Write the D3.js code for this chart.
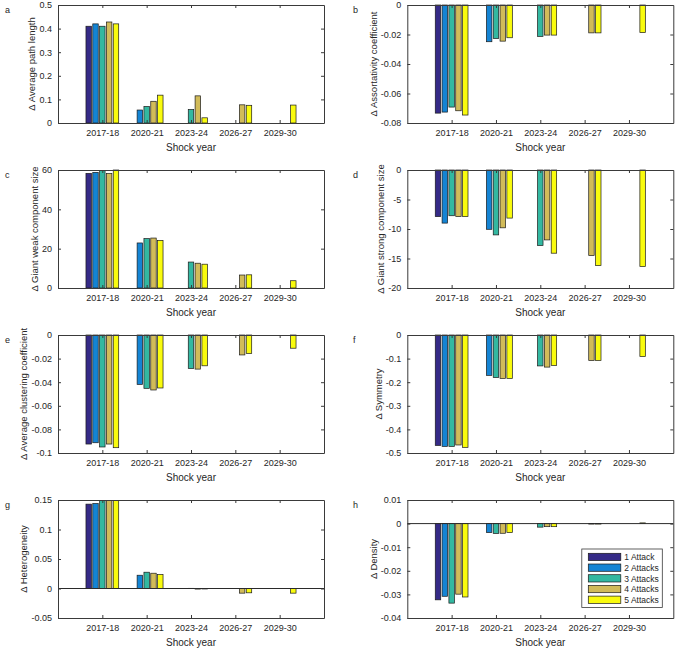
<!DOCTYPE html>
<html>
<head>
<meta charset="utf-8">
<script src="https://cdn.jsdelivr.net/npm/d3@7"></script>
<style>
  body { margin: 0; background: #fff; }
  svg text { font-family: "Liberation Sans", Arial, sans-serif; fill: #262626; }
</style>
</head>
<body>
<div id="chart-area"></div>
<script>
// categories and series
let shockYears = ["2017-18", "2020-21", "2023-24", "2026-27", "2029-30"];
let attackNames = ["1 Attack", "2 Attacks", "3 Attacks", "4 Attacks", "5 Attacks"];
let attackColors = ["#352A87", "#1484D4", "#33B8A1", "#D1BB59", "#F9FB0E"];

// each array: one row per attack series, one value per shock year (null = no bar)
let pathLength = [
    [0.410, null, null, null, null],
    [0.420, 0.055, null, null, null],
    [0.410, 0.070, 0.057, null, null],
    [0.428, 0.092, 0.115, 0.077, null],
    [0.420, 0.118, 0.022, 0.075, 0.076]
];
let assortativity = [
    [-0.0733, null, null, null, null],
    [-0.0726, -0.0249, null, null, null],
    [-0.0692, -0.0227, -0.0213, null, null],
    [-0.0717, -0.0245, -0.0204, -0.0189, null],
    [-0.0746, -0.0222, -0.0204, -0.0189, -0.0187]
];
let weakComponent = [
    [58.3, null, null, null, null],
    [58.8, 22.9, null, null, null],
    [59.7, 25.1, 13.2, null, null],
    [58.2, 25.4, 12.6, 6.6, null],
    [60.0, 24.2, 12.1, 6.7, 3.7]
];
let strongComponent = [
    [-7.9, null, null, null, null],
    [-9.0, -10.05, null, null, null],
    [-7.75, -11.0, -12.8, null, null],
    [-7.9, -9.8, -11.85, -14.5, null],
    [-7.9, -8.15, -14.1, -16.2, -16.35]
];
let clustering = [
    [-0.0924, null, null, null, null],
    [-0.0913, -0.0419, null, null, null],
    [-0.0949, -0.0452, -0.0284, null, null],
    [-0.0924, -0.0466, -0.0289, -0.0169, null],
    [-0.0955, -0.0449, -0.0261, -0.0157, -0.0112]
];
let symmetry = [
    [-0.468, null, null, null, null],
    [-0.472, -0.171, null, null, null],
    [-0.472, -0.180, -0.131, null, null],
    [-0.466, -0.184, -0.136, -0.108, null],
    [-0.476, -0.184, -0.129, -0.108, -0.091]
];
let heterogeneity = [
    [0.143, null, null, null, null],
    [0.144, 0.0225, null, null, null],
    [0.149, 0.0276, 0.0003, null, null],
    [0.149, 0.0259, -0.0010, -0.0079, null],
    [0.149, 0.0237, -0.0008, -0.0073, -0.0079]
];
let density = [
    [-0.0323, null, null, null, null],
    [-0.0308, -0.0038, null, null, null],
    [-0.0337, -0.0042, -0.0015, null, null],
    [-0.0299, -0.0041, -0.0013, -0.0002, null],
    [-0.0311, -0.0038, -0.0013, -0.0002, 0.0003]
];

let panels = [
    { letter: "a", label: "\u0394  Average path length", data: pathLength, domain: [0, 0.5], step: 0.1 },
    { letter: "b", label: "\u0394  Assortativity coefficient", data: assortativity, domain: [-0.08, 0], step: 0.02 },
    { letter: "c", label: "\u0394  Giant weak component size", data: weakComponent, domain: [0, 60], step: 20 },
    { letter: "d", label: "\u0394  Giant strong component size", data: strongComponent, domain: [-20, 0], step: 5 },
    { letter: "e", label: "\u0394  Average clustering coefficient", data: clustering, domain: [-0.1, 0], step: 0.02 },
    { letter: "f", label: "\u0394  Symmetry", data: symmetry, domain: [-0.5, 0], step: 0.1 },
    { letter: "g", label: "\u0394  Heterogeneity", data: heterogeneity, domain: [-0.05, 0.15], step: 0.05 },
    { letter: "h", label: "\u0394  Density", data: density, domain: [-0.04, 0.01], step: 0.01 }
];

let W = 675, H = 649;
let plotW = 266, plotH = 118;
let colLeft = [58, 407.3];
let rowTop = [5, 170, 335, 500];
let axisColor = "#3a3a3a";

let svg = d3.select("#chart-area")
    .append("svg")
    .attr("width", W)
    .attr("height", H);

// MATLAB grouped bar geometry
let nSeries = attackNames.length;
let groupWidth = Math.min(0.8, nSeries / (nSeries + 1.5));
let barWidth = 0.8 * groupWidth / nSeries;

// plain hyphen for negatives, like MATLAB
let fmt = v => (v === 0 ? "0" : String(+v.toFixed(4)));

panels.forEach((p, idx) => {
    let col = idx % 2;
    let row = Math.floor(idx / 2);
    let g = svg.append("g")
        .attr("transform", "translate(" + colLeft[col] + "," + rowTop[row] + ")");

    let x = d3.scaleLinear().domain([0, shockYears.length + 1]).range([0, plotW]);
    let y = d3.scaleLinear().domain(p.domain).range([plotH, 0]);
    let yTicks = d3.range(p.domain[0], p.domain[1] + p.step / 2, p.step).map(v => +v.toFixed(4));

    // bars
    p.data.forEach((series, s) => {
        let offset = -groupWidth / 2 + (2 * s + 1) * groupWidth / (2 * nSeries);
        series.forEach((v, i) => {
            if (v === null) return;
            let cx = i + 1 + offset;
            g.append("rect")
                .attr("x", x(cx - barWidth / 2))
                .attr("width", x(barWidth) - x(0))
                .attr("y", y(Math.max(0, v)))
                .attr("height", Math.abs(y(v) - y(0)))
                .attr("fill", attackColors[s])
                .attr("stroke", "#1a1a1a")
                .attr("stroke-width", 0.7);
        });
    });

    // baseline at zero when it sits inside the box
    if (p.domain[0] < 0 && p.domain[1] > 0) {
        g.append("line")
            .attr("x1", 0).attr("x2", plotW)
            .attr("y1", y(0)).attr("y2", y(0))
            .attr("stroke", "#2a2a2a")
            .attr("stroke-width", 1);
    }

    // axes, ticks pointing inwards
    let xAxis = d3.axisBottom(x)
        .tickValues(d3.range(1, shockYears.length + 1))
        .tickFormat(i => shockYears[i - 1])
        .tickSizeInner(-3).tickSizeOuter(0).tickPadding(7);
    let xAxisTop = d3.axisTop(x)
        .tickValues(d3.range(1, shockYears.length + 1))
        .tickFormat("").tickSizeInner(-3).tickSizeOuter(0);
    let yAxis = d3.axisLeft(y)
        .tickValues(yTicks).tickFormat(fmt)
        .tickSizeInner(-3).tickSizeOuter(0).tickPadding(6);
    let yAxisRight = d3.axisRight(y)
        .tickValues(yTicks).tickFormat("")
        .tickSizeInner(-3).tickSizeOuter(0);

    let yAxisG;
    [
        g.append("g").attr("transform", "translate(0," + plotH + ")").call(xAxis),
        g.append("g").call(xAxisTop),
        yAxisG = g.append("g").call(yAxis),
        g.append("g").attr("transform", "translate(" + plotW + ",0)").call(yAxisRight)
    ].forEach(a => {
        a.selectAll("path, line").attr("stroke", axisColor);
        a.selectAll("text")
            .attr("fill", "#262626")
            .style("font-size", "9px")
            .style("font-family", "'Liberation Sans', Arial, sans-serif");
    });

    // widest tick label decides where the y label goes
    let maxW = d3.max(yAxisG.selectAll(".tick text").nodes(), n => n.getComputedTextLength());

    // Shock year label
    g.append("text")
        .attr("x", plotW / 2)
        .attr("y", plotH + 28)
        .attr("text-anchor", "middle")
        .style("font-size", "10px")
        .text("Shock year");

    // y label
    g.append("text")
        .attr("transform", "rotate(-90)")
        .attr("x", -plotH / 2)
        .attr("y", -(6 + maxW + 4))
        .attr("text-anchor", "middle")
        .style("font-size", "9.5px")
        .text(p.label);

    // panel letter
    svg.append("text")
        .attr("x", col === 0 ? 5 : 353)
        .attr("y", rowTop[row] + 8)
        .style("font-size", "9px")
        .text(p.letter);

    // legend in last panel
    if (p.letter === "h") {
        let lg = g.append("g").attr("transform", "translate(174.5,49)");
        lg.append("rect")
            .attr("width", 80.5).attr("height", 58.5)
            .attr("fill", "#fff")
            .attr("stroke", axisColor)
            .attr("stroke-width", 0.8);
        attackNames.forEach((name, s) => {
            let yy = 8 + s * 10.7;
            lg.append("rect")
                .attr("x", 6.5).attr("y", yy - 3.7)
                .attr("width", 32.5).attr("height", 7.3)
                .attr("fill", attackColors[s])
                .attr("stroke", "#1a1a1a")
                .attr("stroke-width", 0.7);
            lg.append("text")
                .attr("x", 42.5).attr("y", yy + 3.2)
                .style("font-size", "8.5px")
                .text(name);
        });
    }
});
</script>
</body>
</html>
